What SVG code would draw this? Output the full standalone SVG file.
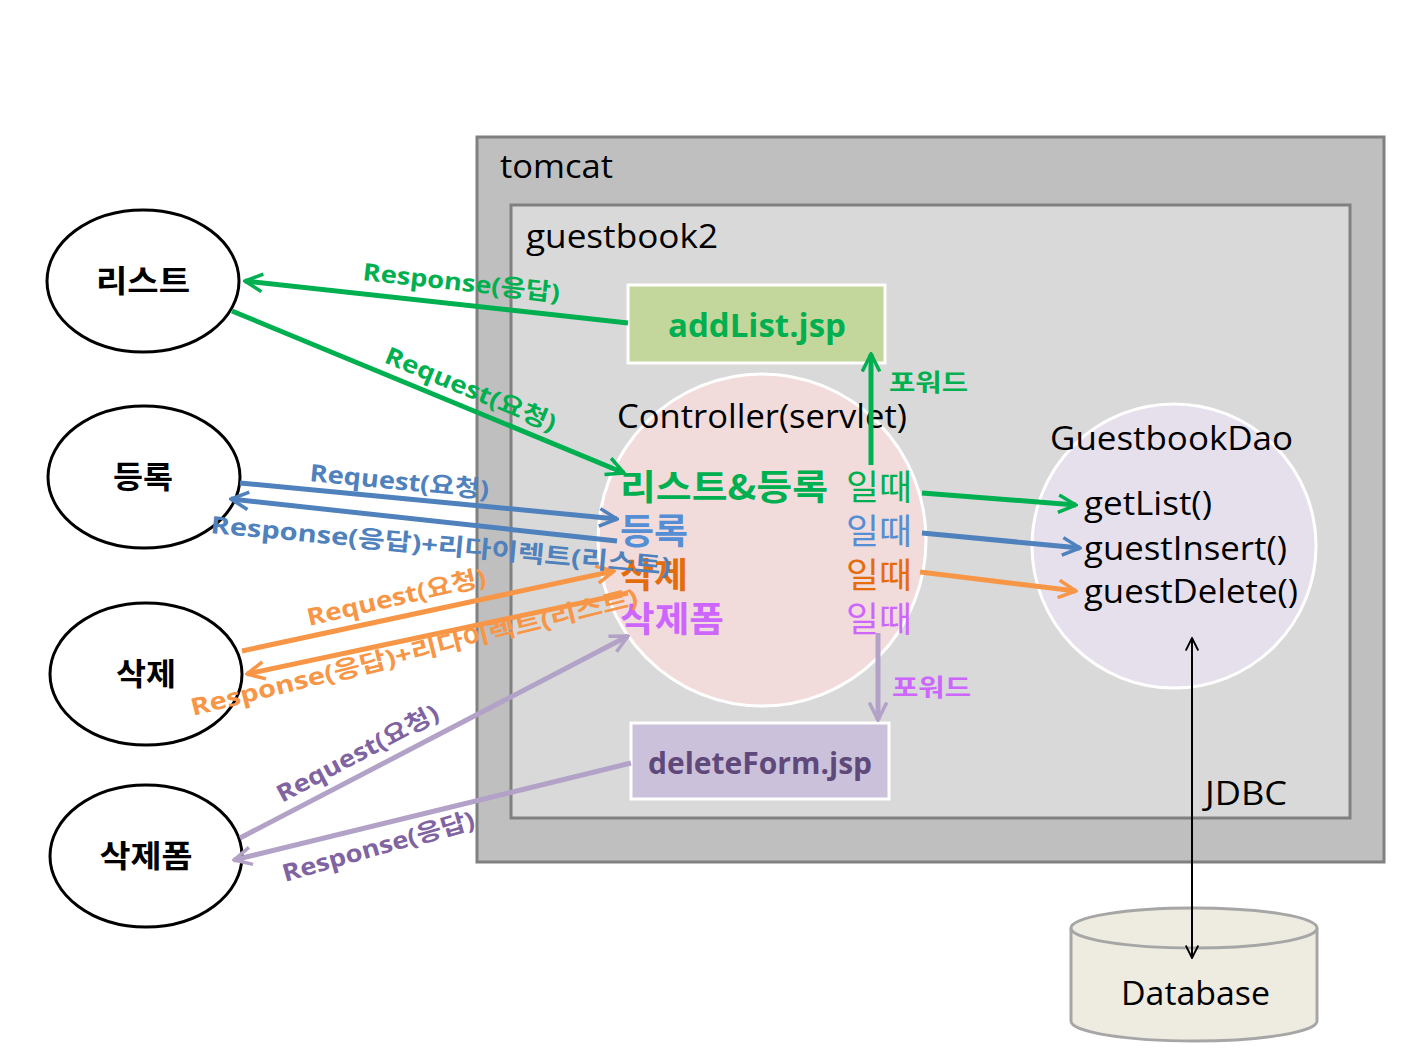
<svg xmlns="http://www.w3.org/2000/svg" width="1415" height="1057" viewBox="0 0 1415 1057">
<style>
text{font-family:"Open Sans","Noto Sans CJK KR",sans-serif}
.k{font-family:"Noto Sans CJK KR","Open Sans",sans-serif}
.b{font-weight:bold}
.lbl{font-size:24px;font-weight:bold;font-family:"Open Sans","Noto Sans CJK KR",sans-serif}
.big{font-size:33px;fill:#000}
.ell{fill:#fff;stroke:#000;stroke-width:3}
.node{font-size:31px;font-weight:bold;fill:#000;text-anchor:middle}
.ln{fill:none;stroke-width:5}
</style>
<defs>
<marker id="ag" viewBox="0 0 12 12" refX="11" refY="6" markerWidth="21" markerHeight="21" markerUnits="userSpaceOnUse" orient="auto"><path d="M1,1 L11,6 L1,11" fill="none" stroke="#00b050" stroke-width="2"/></marker>
<marker id="ab" viewBox="0 0 12 12" refX="11" refY="6" markerWidth="21" markerHeight="21" markerUnits="userSpaceOnUse" orient="auto"><path d="M1,1 L11,6 L1,11" fill="none" stroke="#4f81bd" stroke-width="2"/></marker>
<marker id="ao" viewBox="0 0 12 12" refX="11" refY="6" markerWidth="21" markerHeight="21" markerUnits="userSpaceOnUse" orient="auto"><path d="M1,1 L11,6 L1,11" fill="none" stroke="#f79646" stroke-width="2"/></marker>
<marker id="ap" viewBox="0 0 12 12" refX="11" refY="6" markerWidth="21" markerHeight="21" markerUnits="userSpaceOnUse" orient="auto"><path d="M1,1 L11,6 L1,11" fill="none" stroke="#b3a2c7" stroke-width="2"/></marker>
<marker id="ak" viewBox="0 0 12 12" refX="11" refY="6" markerWidth="15" markerHeight="15" markerUnits="userSpaceOnUse" orient="auto-start-reverse"><path d="M1,1 L11,6 L1,11" fill="none" stroke="#000" stroke-width="1.5"/></marker>
</defs>

<g id="tomcat">
<rect x="477" y="137" width="907" height="725" fill="#bfbfbf" stroke="#808080" stroke-width="3"/>
<text class="big" x="500" y="178" textLength="113" lengthAdjust="spacingAndGlyphs">tomcat</text>
</g>
<g id="guestbook2">
<rect x="511" y="205" width="839" height="613" fill="#d9d9d9" stroke="#808080" stroke-width="3"/>
<text class="big" x="526" y="248" textLength="192" lengthAdjust="spacingAndGlyphs">guestbook2</text>
</g>

<g id="addList">
<rect x="628" y="285" width="257" height="78" fill="#c3d69b" stroke="#fff" stroke-width="3"/>
<text x="757" y="337" text-anchor="middle" font-size="33" class="b" fill="#00b050">addList.jsp</text>
</g>

<g id="controller">
<ellipse cx="762" cy="540" rx="164" ry="166" fill="#f2dcdb" stroke="#fff" stroke-width="3"/>
<text class="big" x="617" y="428" textLength="290" lengthAdjust="spacingAndGlyphs">Controller(servlet)</text>
<text x="620" y="500" font-size="35" class="b k" fill="#00b050" textLength="208" lengthAdjust="spacingAndGlyphs">리스트&amp;등록</text>
<text x="846" y="500" font-size="35" class="k" fill="#00b050" textLength="66" lengthAdjust="spacingAndGlyphs">일때</text>
<text x="620" y="544" font-size="35" class="b k" fill="#558ed5" textLength="68" lengthAdjust="spacingAndGlyphs">등록</text>
<text x="846" y="544" font-size="35" class="k" fill="#558ed5" textLength="66" lengthAdjust="spacingAndGlyphs">일때</text>
<text x="620" y="588" font-size="35" class="b k" fill="#e46c0a" textLength="68" lengthAdjust="spacingAndGlyphs">삭제</text>
<text x="846" y="588" font-size="35" class="k" fill="#e46c0a" textLength="66" lengthAdjust="spacingAndGlyphs">일때</text>
<text x="620" y="632" font-size="35" class="b k" fill="#cc66ff" textLength="104" lengthAdjust="spacingAndGlyphs">삭제폼</text>
<text x="846" y="632" font-size="35" class="k" fill="#cc66ff" textLength="66" lengthAdjust="spacingAndGlyphs">일때</text>
</g>

<g id="dao">
<circle cx="1174" cy="546" r="142" fill="#e6e0ec" stroke="#fff" stroke-width="3"/>
<text class="big" x="1050" y="450" textLength="243" lengthAdjust="spacingAndGlyphs">GuestbookDao</text>
<text class="big" x="1084" y="515" textLength="128" lengthAdjust="spacingAndGlyphs">getList()</text>
<text class="big" x="1084" y="560" textLength="203" lengthAdjust="spacingAndGlyphs">guestInsert()</text>
<text class="big" x="1084" y="603" textLength="214" lengthAdjust="spacingAndGlyphs">guestDelete()</text>
</g>

<g id="deleteForm">
<rect x="631" y="723" width="258" height="76" fill="#ccc1da" stroke="#fff" stroke-width="3"/>
<text x="760" y="774" text-anchor="middle" font-size="30" class="b" fill="#5f497a">deleteForm.jsp</text>
</g>

<g id="database">
<path d="M1071,928 L1071,1021 A123,20 0 0 0 1317,1021 L1317,928" fill="#eeece1" stroke="#a6a6a6" stroke-width="3"/>
<ellipse cx="1194" cy="928" rx="123" ry="20" fill="#eeece1" stroke="#a6a6a6" stroke-width="3"/>
<text class="big" x="1121" y="1005" textLength="149" lengthAdjust="spacingAndGlyphs">Database</text>
</g>

<g id="n-list"><ellipse class="ell" cx="143" cy="281" rx="96" ry="71"/><text class="node k" x="143" y="292" textLength="94" lengthAdjust="spacingAndGlyphs">리스트</text></g>
<g id="n-reg"><ellipse class="ell" cx="144" cy="477" rx="96" ry="71"/><text class="node k" x="143" y="488" textLength="60" lengthAdjust="spacingAndGlyphs">등록</text></g>
<g id="n-del"><ellipse class="ell" cx="146" cy="674" rx="96" ry="71"/><text class="node k" x="146" y="685" textLength="60" lengthAdjust="spacingAndGlyphs">삭제</text></g>
<g id="n-delform"><ellipse class="ell" cx="146" cy="856" rx="96" ry="71"/><text class="node k" x="146" y="867" textLength="93" lengthAdjust="spacingAndGlyphs">삭제폼</text></g>

<g id="connectors">
<line class="ln" x1="628" y1="323" x2="245" y2="281" stroke="#00b050" marker-end="url(#ag)"/>
<line class="ln" x1="232" y1="311" x2="624" y2="473" stroke="#00b050" marker-end="url(#ag)"/>
<line class="ln" x1="240" y1="483" x2="617" y2="519" stroke="#4f81bd" marker-end="url(#ab)"/>
<line class="ln" x1="617" y1="541" x2="231" y2="499" stroke="#4f81bd" marker-end="url(#ab)"/>
<line class="ln" x1="242" y1="651" x2="614" y2="571" stroke="#f79646" marker-end="url(#ao)"/>
<line class="ln" x1="628" y1="593" x2="247" y2="674" stroke="#f79646" marker-end="url(#ao)"/>
<line class="ln" x1="240" y1="838" x2="628" y2="636" stroke="#b3a2c7" marker-end="url(#ap)"/>
<line class="ln" x1="631" y1="763" x2="234" y2="860" stroke="#b3a2c7" marker-end="url(#ap)"/>
<line class="ln" x1="871" y1="465" x2="871" y2="354" stroke="#00b050" marker-end="url(#ag)"/>
<line class="ln" x1="878" y1="633" x2="878" y2="720" stroke="#b3a2c7" marker-end="url(#ap)"/>
<line class="ln" x1="922" y1="493" x2="1076" y2="505" stroke="#00b050" marker-end="url(#ag)"/>
<line class="ln" x1="922" y1="533" x2="1080" y2="548" stroke="#4f81bd" marker-end="url(#ab)"/>
<line class="ln" x1="920" y1="572" x2="1076" y2="591" stroke="#f79646" marker-end="url(#ao)"/>
<line x1="1192" y1="638" x2="1192" y2="958" stroke="#000" stroke-width="2" marker-start="url(#ak)" marker-end="url(#ak)"/>

<text class="lbl" fill="#00b050" transform="translate(362,280) rotate(6.2)" textLength="198" lengthAdjust="spacingAndGlyphs">Response(응답)</text>
<text class="lbl" fill="#00b050" transform="translate(383,362) rotate(22.5)" textLength="183" lengthAdjust="spacingAndGlyphs">Request(요청)</text>
<text class="lbl" fill="#4f81bd" transform="translate(309,481) rotate(5.5)" textLength="180" lengthAdjust="spacingAndGlyphs">Request(요청)</text>
<text class="lbl" fill="#4f81bd" transform="translate(210,533) rotate(5.2)" textLength="462" lengthAdjust="spacingAndGlyphs">Response(응답)+리다이렉트(리스트)</text>
<text class="lbl" fill="#f79646" transform="translate(309,626) rotate(-13)" textLength="183" lengthAdjust="spacingAndGlyphs">Request(요청)</text>
<text class="lbl" fill="#f79646" transform="translate(193,716) rotate(-14)" textLength="460" lengthAdjust="spacingAndGlyphs">Response(응답)+리다이렉트(리스트)</text>
<text class="lbl" fill="#8064a2" transform="translate(282,803) rotate(-28)" textLength="180" lengthAdjust="spacingAndGlyphs">Request(요청)</text>
<text class="lbl" fill="#8064a2" transform="translate(285,882) rotate(-16)" textLength="199" lengthAdjust="spacingAndGlyphs">Response(응답)</text>
<text class="lbl k" fill="#00b050" x="889" y="391" font-size="27" textLength="79" lengthAdjust="spacingAndGlyphs">포워드</text>
<text class="lbl k" fill="#cc66ff" x="892" y="696" font-size="27" textLength="79" lengthAdjust="spacingAndGlyphs">포워드</text>
<text class="big" x="1205" y="805" textLength="82" lengthAdjust="spacingAndGlyphs">JDBC</text>
</g>
</svg>
